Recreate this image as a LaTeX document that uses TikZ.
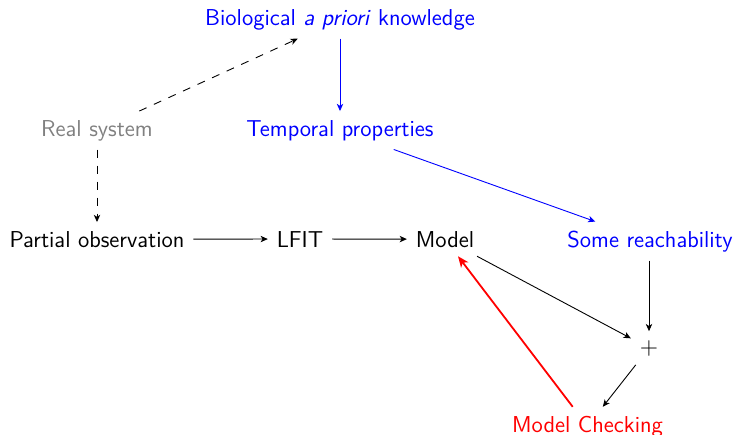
\documentclass[tikz,border=0pt]{standalone}
\usetikzlibrary{calc,arrows.meta}
\begin{document}
\begin{tikzpicture}[x=0.5pt,y=-0.5pt,
  >={Stealth[length=3.6pt,width=3.2pt,inset=1pt]},
  lbl/.style={font=\sffamily\fontsize{11.5}{13.5}\selectfont, inner sep=4.3pt},
  base/.style={lbl, anchor=base},
  conn/.style={->, line width=0.45pt},
  dconn/.style={->, line width=0.45pt, dash pattern=on 4pt off 4pt},
  bconn/.style={->, blue, line width=0.45pt},
  rconn/.style={-{Stealth[length=5.5pt,width=4.5pt,inset=1.5pt]}, red, line width=0.9pt}]
\useasboundingbox (0,0) rectangle (734,434);
\node[base, text=blue] (bio) at (340,25) {Biological \textit{a priori} knowledge};
\node[base, text=gray] (rs) at (97,136) {Real system};
\node[base, text=blue] (tp) at (340,136) {Temporal properties};
\node[base] (po) at (97,247) {Partial observation};
\node[base] (lfit) at (300,247) {LFIT};
\node[base] (model) at (445,247) {Model};
\node[base, text=blue] (sr) at (650,247) {Some reachability};
\node[lbl] (plus) at (649,348) {$+$};
\node[base, text=red] (mc) at (587.5,432) {Model Checking};

\draw[dconn] (rs) -- (bio);
\draw[dconn] (rs) -- (po);
\draw[bconn] (bio) -- (tp);
\draw[bconn] (tp) -- (sr);
\draw[conn] (po) -- (lfit);
\draw[conn] (lfit) -- (model);
\draw[conn] (model) -- (plus);
\draw[conn] (sr.south -| plus) -- (plus);
\draw[conn] (plus) -- (mc);
\draw[rconn] (mc) -- (model);
\end{tikzpicture}
\end{document}
